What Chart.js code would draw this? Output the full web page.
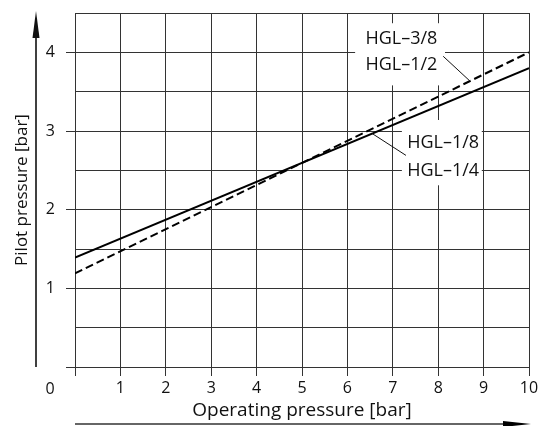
<!DOCTYPE html>
<html>
<head>
<meta charset="utf-8">
<script src="https://cdn.jsdelivr.net/npm/chart.js@4.4.1/dist/chart.umd.min.js"></script>
<style>
  html, body { margin: 0; padding: 0; background: #fff; }
  canvas { display: block; }
</style>
</head>
<body>
<canvas id="grafico" width="543" height="426"></canvas>
<script>
// Dados
const operatingPressure = [0, 10]
const pilotHgl18 = [1.39, 3.80]   // HGL-1/8, HGL-1/4 (linha cheia)
const pilotHgl38 = [1.19, 4.00]   // HGL-3/8, HGL-1/2 (tracejada)
const xTickLabels = ['', '1', '2', '3', '4', '5', '6', '7', '8', '9', '10']
const yTickLabels = ['1', '2', '3', '4']
const labelsSolid = ['HGL–1/8', 'HGL–1/4']
const labelsDashed = ['HGL–3/8', 'HGL–1/2']

const FONTE = '"Open Sans", "Noto Sans", sans-serif'
const COR_GRADE = '#333'

const ctx = document.getElementById('grafico').getContext('2d')

function pontos(xs, ys) {
    return xs.map((x, i) => ({ x: x, y: ys[i] }))
}

// Rótulos com caixa branca e linha de chamada (em unidades dos eixos)
const rotulos = [
    { textos: labelsDashed, cx: 7.19, y: [4.165, 3.835], caixa: [6.17, 8.15, 4.37, 3.58], chamada: [8.11, 3.95, 8.68, 3.645] },
    { textos: labelsSolid, cx: 8.11, y: [2.845, 2.49], caixa: [7.2, 8.96, 3.14, 2.31], chamada: [6.54, 2.97, 7.29, 2.69] }
]

const extras = {
    id: 'extras',
    beforeDatasetsDraw(chart) {
        // caixas brancas escondem a grade atrás dos textos
        const c = chart.ctx
        const sx = chart.scales.x
        const sy = chart.scales.y
        c.save()
        c.fillStyle = '#fff'
        rotulos.forEach(r => {
            const x0 = sx.getPixelForValue(r.caixa[0])
            const x1 = sx.getPixelForValue(r.caixa[1])
            const y0 = sy.getPixelForValue(r.caixa[2])
            const y1 = sy.getPixelForValue(r.caixa[3])
            c.fillRect(x0, y0, x1 - x0, y1 - y0)
        })
        c.restore()
    },
    afterDatasetsDraw(chart) {
        const c = chart.ctx
        const sx = chart.scales.x
        const sy = chart.scales.y
        c.save()
        rotulos.forEach(r => {
            c.fillStyle = '#111'
            c.font = '18px ' + FONTE
            c.textAlign = 'center'
            c.textBaseline = 'middle'
            r.textos.forEach((t, i) => {
                c.fillText(t, sx.getPixelForValue(r.cx), sy.getPixelForValue(r.y[i]))
            })
            c.strokeStyle = '#111'
            c.lineWidth = 1
            c.beginPath()
            c.moveTo(sx.getPixelForValue(r.chamada[0]), sy.getPixelForValue(r.chamada[1]))
            c.lineTo(sx.getPixelForValue(r.chamada[2]), sy.getPixelForValue(r.chamada[3]))
            c.stroke()
        })
        c.restore()
    },
    afterDraw(chart) {
        const c = chart.ctx
        const a = chart.chartArea
        c.save()
        // zero compartilhado no canto
        c.fillStyle = '#111'
        c.font = '16px ' + FONTE
        c.textAlign = 'center'
        c.textBaseline = 'middle'
        c.fillText('0', a.left - 25, a.bottom + 22)

        // seta do eixo Y
        c.strokeStyle = '#000'
        c.lineWidth = 1.5
        c.beginPath()
        c.moveTo(36, a.bottom)
        c.lineTo(36, 32)
        c.stroke()
        c.beginPath()
        c.moveTo(36, 11)
        c.lineTo(32.5, 38)
        c.lineTo(39.5, 38)
        c.closePath()
        c.fill()

        // seta do eixo X
        c.strokeStyle = '#666'
        c.lineWidth = 2
        c.beginPath()
        c.moveTo(a.left, 424)
        c.lineTo(506, 424)
        c.stroke()
        c.fillStyle = '#000'
        c.beginPath()
        c.moveTo(531, 424)
        c.lineTo(503, 421)
        c.lineTo(503, 427)
        c.closePath()
        c.fill()
        c.restore()
    }
}

new Chart(ctx, {
    type: 'line',
    data: {
        datasets: [
            {
                label: labelsSolid.join(', '),
                data: pontos(operatingPressure, pilotHgl18),
                borderColor: '#000',
                borderWidth: 2,
                pointRadius: 0,
                fill: false
            },
            {
                label: labelsDashed.join(', '),
                data: pontos(operatingPressure, pilotHgl38),
                borderColor: '#000',
                borderWidth: 2,
                borderDash: [8, 4],
                pointRadius: 0,
                fill: false
            }
        ]
    },
    options: {
        responsive: false,
        animation: false,
        layout: { padding: { top: 13, right: 14, left: 0, bottom: 0 } },
        plugins: {
            legend: { display: false },
            tooltip: { enabled: false }
        },
        scales: {
            x: {
                type: 'linear',
                min: 0,
                max: 10,
                afterFit: s => { s.height = 59 },
                border: { display: false },
                grid: { color: COR_GRADE, lineWidth: 1, tickLength: 9, tickColor: COR_GRADE },
                ticks: {
                    stepSize: 1,
                    autoSkip: false,
                    maxRotation: 0,
                    color: '#111',
                    padding: 3,
                    font: { family: FONTE, size: 16 },
                    callback: v => xTickLabels[v] ?? ''
                },
                title: {
                    display: true,
                    text: 'Operating pressure [bar]',
                    color: '#111',
                    font: { family: FONTE, size: 19 },
                    padding: { top: 0, bottom: 4 }
                }
            },
            y: {
                min: 0,
                max: 4.5,
                afterFit: s => { s.width = 75; s.paddingTop = 0; s.paddingBottom = 0 },
                border: { display: false },
                grid: {
                    color: COR_GRADE,
                    lineWidth: 1,
                    tickLength: 9,
                    tickColor: c => (c.tick && Number.isInteger(c.tick.value)) ? COR_GRADE : 'rgba(0,0,0,0)'
                },
                ticks: {
                    stepSize: 0.5,
                    autoSkip: false,
                    color: '#111',
                    padding: 11,
                    font: { family: FONTE, size: 16 },
                    callback: v => yTickLabels.includes(String(v)) ? String(v) : ''
                },
                title: {
                    display: true,
                    text: 'Pilot pressure [bar]',
                    color: '#111',
                    font: { family: FONTE, size: 17 },
                    padding: { top: 12, bottom: 0 }
                }
            }
        }
    },
    plugins: [extras]
})
</script>
</body>
</html>
